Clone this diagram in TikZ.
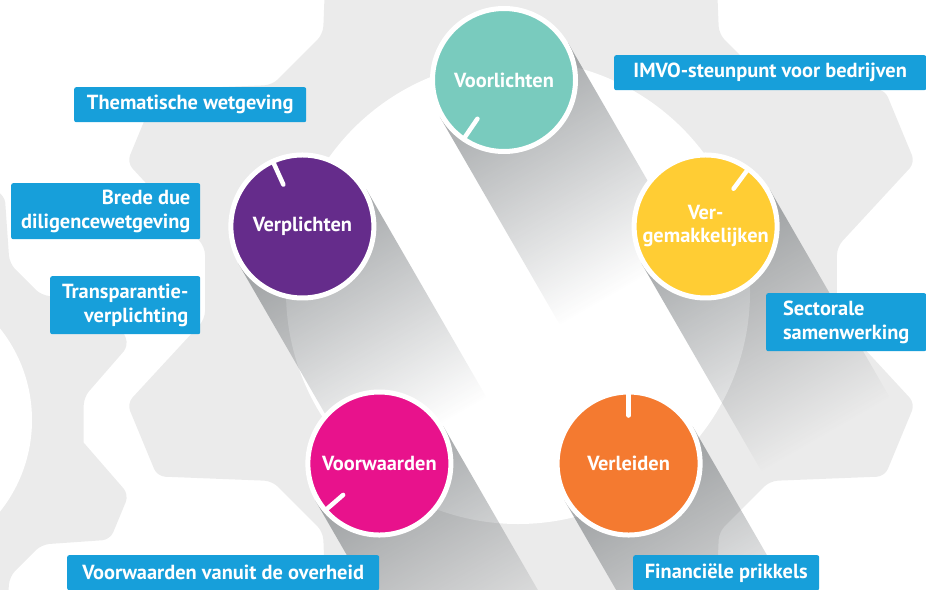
\documentclass[tikz,border=0pt]{standalone}
\usepackage{fontspec}
\setmainfont{PT Sans}
\usepackage{tikz}
\usetikzlibrary{calc, fadings}
\definecolor{gearc}{RGB}{235,235,235}
\definecolor{boxblue}{RGB}{23,159,218}
\definecolor{cteal}{RGB}{121,203,190}
\definecolor{cyellow}{RGB}{255,205,52}
\definecolor{cpurple}{RGB}{101,44,139}
\definecolor{cmagenta}{RGB}{232,18,140}
\definecolor{corange}{RGB}{244,122,48}
\definecolor{shadowc}{RGB}{70,76,80}

\tikzfading[name=shadowfade, left color=transparent!52, right color=transparent!100]

% gear outline: centre, root radius, tip radius
\newcommand\gearshape[3]{%
  \fill[gearc, rounded corners=8pt] ($(#1)+(6.5:#2)$)
    \foreach \a in {22.5,67.5,...,337.5}{
      -- ($(#1)+(\a-5.5:#3)$) -- ($(#1)+(\a+5.5:#3)$)
      -- ($(#1)+(\a+16:#2)$) -- ($(#1)+(\a+29:#2)$)
    };}
% long shadow behind a disc
\newcommand\longshadow[1]{%
  \begin{scope}[transform canvas={shift={(#1)}, rotate=-60}]
    \fill[shadowc, path fading=shadowfade] (0,-74) rectangle (240,74);
  \end{scope}}

\begin{document}
\begin{tikzpicture}[x=1pt, y=-1pt,
  disc/.style={circle, draw=white, line width=5pt, minimum size=143pt, inner sep=0pt,
               text=white, align=center, font=\bfseries\fontsize{20.4}{23}\selectfont},
  tag/.style={rectangle, fill=boxblue, rounded corners=2pt, anchor=north west, inner sep=0pt,
              minimum height=35pt, text=white, font=\bfseries\fontsize{20.4}{24}\selectfont},
  tick/.style={white, line width=4.5pt, line cap=round}
]
\useasboundingbox (0,0) rectangle (926,589);
\clip (0,0) rectangle (926,589);

% background gears
\coordinate (bigc) at (521,283);
\coordinate (smallc) at (-115,420);
\gearshape{bigc}{318}{412}
\gearshape{smallc}{200}{255}
\fill[white] (518,292) circle (232);
\fill[white] (smallc) circle (147);

% disc positions round the hub
\coordinate (hub) at (504,292);
\foreach \n/\ang in {vl/-90, vg/-18, vr/54, vw/126, vp/198}
  \coordinate (p\n) at ($(hub)+(\ang:212)$);

\foreach \p in {pvl, pvg, pvr, pvw, pvp} {\longshadow{\p}}

\node[disc, fill=cteal] (vl) at (pvl) {Voorlichten};
\node[disc, fill=cyellow] (vg) at (pvg) {Ver-\\gemakkelijken};
\node[disc, fill=corange] (vr) at (pvr) {Verleiden};
\node[disc, fill=cmagenta] (vw) at (pvw) {Voorwaarden};
\node[disc, fill=cpurple] (vp) at (pvp) {Verplichten};

\draw[tick] ($(vl)+(124.4:47)$) -- ($(vl)+(124.4:70)$);
\draw[tick] ($(vg)+(-53.5:47)$) -- ($(vg)+(-53.5:70)$);
\draw[tick] ($(vr)+(-90:48)$) -- ($(vr)+(-90:70)$);
\draw[tick] ($(vw)+(139.1:48)$) -- ($(vw)+(139.1:70)$);
\draw[tick] ($(vp)+(-114.4:46)$) -- ($(vp)+(-114.4:70)$);

% labels
\node[tag, minimum width=232pt] (thema) at (74,87) {Thematische wetgeving};
\node[tag, minimum width=189pt, minimum height=56pt, align=right] (brede) at (11,183) {Brede due\\diligencewetgeving};
\node[tag, minimum width=150pt, minimum height=58pt, align=right] (transp) at (50,276) {Transparantie-\\verplichting};
\node[tag, minimum width=312pt] (imvo) at (614,55) {IMVO-steunpunt voor bedrijven};
\node[tag, minimum width=160pt, minimum height=58pt, align=left] (sector) at (766,293) {Sectorale\\samenwerking};
\node[tag, minimum width=186pt] (financ) at (633,555) {Financiële prikkels};
\node[tag, minimum width=312pt] (vwover) at (67,555) {Voorwaarden vanuit de overheid};
\end{tikzpicture}
\end{document}
